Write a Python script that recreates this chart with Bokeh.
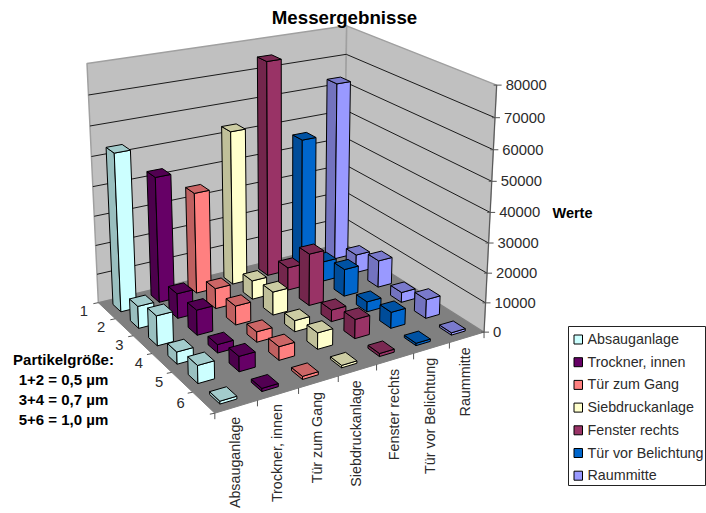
import numpy as np
from bokeh.plotting import figure
from bokeh.models import Range1d
from bokeh.core.properties import value
from bokeh.embed import file_html
from bokeh.resources import INLINE

# ---- data ----
title = "Messergebnisse"
categories = ["Absauganlage", "Trockner, innen", "Tür zum Gang", "Siebdruckanlage",
              "Fenster rechts", "Tür vor Belichtung", "Raummitte"]
rows = ["1", "2", "3", "4", "5", "6"]
value_ticks = [0, 10000, 20000, 30000, 40000, 50000, 60000, 70000, 80000]
absauganlage = [53500, 7500, 10000, 4000, 5800, 900]
trockner = [43000, 8500, 8500, 2800, 5000, 1000]
tuer_gang = [35000, 7000, 6500, 3500, 4500, 1000]
siebdruck = [53500, 6500, 8000, 3800, 5500, 800]
fenster = [75000, 8000, 18000, 4000, 6500, 1000]
tuer_bel = [46000, 7000, 9500, 3500, 5500, 800]
raummitte = [63500, 6500, 9500, 3500, 6500, 800]
series = [absauganlage, trockner, tuer_gang, siebdruck, fenster, tuer_bel, raummitte]
colors = ["#CCFFFF", "#660066", "#FF8080", "#FFFFCC", "#993366", "#0066CC", "#9999FF"]
note = ["Partikelgröße:", "1+2 = 0,5 µm", "3+4 = 0,7 µm", "5+6 = 1,0 µm"]

W, H = 706, 513
VMAX = 80000.0
NU, NV = len(categories), len(rows)

# ---- camera: fit a projective matrix to the box corners and ticks seen in the picture ----
world = [(0, 0, 0), (NU, 0, 0), (0, NV, 0), (NU, NV, 0), (0, 0, 1), (NU, 0, 1), (NU, NV, 1),
         (1, 6, 0), (2, 6, 0), (3, 6, 0), (4, 6, 0), (5, 6, 0), (6, 6, 0),
         (0, 1, 0), (0, 2, 0), (0, 3, 0), (0, 4, 0), (0, 5, 0)]
screen = [(99, 302), (345, 243), (215, 412), (482, 332), (87, 64), (345, 25), (497, 84),
          (258, 400), (300, 388), (338, 375), (377, 363), (412, 353), (448, 343),
          (113, 317), (132, 335), (151, 354), (170, 372), (192, 392)]
A, b = [], []
for (x, y, z), (sx, sy) in zip(world, screen):
    A.append([x, y, z, 1, 0, 0, 0, 0, -sx * x, -sx * y, -sx * z]); b.append(sx)
    A.append([0, 0, 0, 0, x, y, z, 1, -sy * x, -sy * y, -sy * z]); b.append(sy)
m = np.linalg.lstsq(np.array(A, float), np.array(b, float), rcond=None)[0]
M = np.append(m, 1.0).reshape(3, 4)


def proj(u, v, val):
    q = M @ np.array([u, v, val / VMAX, 1.0])
    return q[0] / q[2], q[1] / q[2]


def poly(points):
    pts = [proj(*pt) for pt in points]
    return [a for a, _ in pts], [c for _, c in pts]


def shade(col, f):
    r, g, bl = int(col[1:3], 16), int(col[3:5], 16), int(col[5:7], 16)
    return "#%02X%02X%02X" % (round(r * f), round(g * f), round(bl * f))


p = figure(width=W, height=H, x_range=Range1d(0, W), y_range=Range1d(H, 0),
           output_backend="svg", toolbar_location=None, min_border=0,
           background_fill_color="white", border_fill_color="white")
p.axis.visible = False
p.grid.visible = False
p.outline_line_color = None

FONT = value("Liberation Sans")
TXT = "#2b2b2b"

# ---- walls and floor ----
lx, ly = poly([(0, 0, 0), (NU, 0, 0), (NU, 0, VMAX), (0, 0, VMAX)])
rx, ry = poly([(NU, 0, 0), (NU, NV, 0), (NU, NV, VMAX), (NU, 0, VMAX)])
fx, fy = poly([(0, 0, 0), (NU, 0, 0), (NU, NV, 0), (0, NV, 0)])
p.patches([lx, rx], [ly, ry], fill_color="#C0C0C0", line_color="#A0A0A0", line_width=1.5)
p.patches([fx], [fy], fill_color="#808080", line_color="#808080", line_width=1)

for t in value_ticks[1:-1]:
    x1, y1 = poly([(0, 0, t), (NU, 0, t), (NU, NV, t)])
    p.line(x1, y1, line_color="#1a1a1a", line_width=1)

# ---- bars, back to front ----
BU, BV = 0.2, 0.23
xs, ys, fills = [], [], []
for v in range(NV):
    for u in range(NU - 1, -1, -1):
        val = series[u][v]
        col = colors[u]
        u0, u1 = u + 0.46 - BU, u + 0.46 + BU
        v0, v1 = v + 0.5 - BV, v + 0.5 + BV
        for pts, f in (
            ([(u0, v0, 0), (u0, v1, 0), (u0, v1, val), (u0, v0, val)], 0.75),
            ([(u0, v1, 0), (u1, v1, 0), (u1, v1, val), (u0, v1, val)], 1.0),
            ([(u0, v0, val), (u1, v0, val), (u1, v1, val), (u0, v1, val)], 0.8),
        ):
            a, c = poly(pts)
            xs.append(a); ys.append(c); fills.append(shade(col, f))
p.patches(xs, ys, fill_color=fills, line_color="black", line_width=1)

# ---- value axis ----
ax, ay = poly([(NU, NV, 0), (NU, NV, VMAX)])
p.line(ax, ay, line_color="#555555", line_width=1)
for t in value_ticks:
    x0, y0 = proj(NU, NV, t)
    p.line([x0 - 3, x0 + 5], [y0, y0], line_color="#555555", line_width=1)
    p.text([x0 + 9], [y0], text=[str(t)], text_font=FONT, text_font_size="14.8px",
           text_color=TXT, text_align="left", text_baseline="middle")

# ---- row axis ----
for i in range(NV + 1):
    x0, y0 = proj(0, i, 0)
    p.line([x0 - 5, x0], [y0 + 1, y0], line_color="#555555", line_width=1)
for i, r in enumerate(rows):
    x0, y0 = proj(0, i + 0.5, 0)
    p.text([x0 - 23], [y0], text=[r], text_font=FONT, text_font_size="14.8px",
           text_color=TXT, text_align="center", text_baseline="middle")

# ---- category axis ----
for i in range(NU + 1):
    x0, y0 = proj(i, NV, 0)
    p.line([x0, x0], [y0, y0 + 6], line_color="#555555", line_width=1)
for i, c in enumerate(categories):
    x0, y0 = proj(i + 0.5, NV, 0)
    p.text([x0 - 1.5], [y0 + 10], text=[c], angle=np.pi / 2, text_font=FONT, text_font_size="14.3px",
           text_color=TXT, text_align="right", text_baseline="middle")

# ---- titles ----
p.text([344], [17], text=[title], text_font=FONT, text_font_size="18.7px", text_font_style="bold",
       text_color="black", text_align="center", text_baseline="middle")
p.text([572], [212], text=["Werte"], text_font=FONT, text_font_size="14.5px", text_font_style="bold",
       text_color="black", text_align="center", text_baseline="middle")
for i, s in enumerate(note):
    p.text([63], [359 + 20 * i], text=[s], text_font=FONT, text_font_size="15px", text_font_style="bold",
           text_color="black", text_align="center", text_baseline="middle")

# ---- legend ----
p.quad(left=[568], right=[705], top=[326], bottom=[485], fill_color="white",
       line_color="#222222", line_width=1)
for i, (c, col) in enumerate(zip(categories, colors)):
    yc = 339 + 22.7 * i
    p.quad(left=[573.5], right=[582], top=[yc - 4.5], bottom=[yc + 4.5], fill_color=col,
           line_color="black", line_width=1)
    p.text([587], [yc - 0.5], text=[c], text_font=FONT, text_font_size="14.3px",
           text_color=TXT, text_align="left", text_baseline="middle")

open("out.html", "w").write(file_html(p, INLINE))
